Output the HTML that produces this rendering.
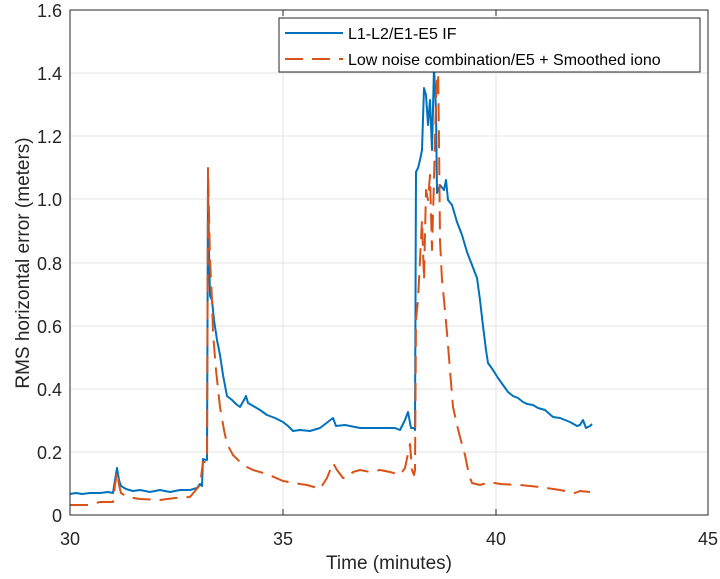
<!DOCTYPE html>
<html><head><style>body{margin:0;background:#fff}svg{display:block;font-family:"Liberation Sans",sans-serif}</style></head>
<body>
<svg width="720" height="579" viewBox="0 0 720 579">
<rect width="720" height="579" fill="#fff"/>
<g stroke="#e3e3e3" stroke-width="1">
<line x1="283" y1="10" x2="283" y2="515"/><line x1="496" y1="10" x2="496" y2="515"/>
<line x1="70" y1="452" x2="708" y2="452"/><line x1="70" y1="389" x2="708" y2="389"/>
<line x1="70" y1="326" x2="708" y2="326"/><line x1="70" y1="263" x2="708" y2="263"/>
<line x1="70" y1="199" x2="708" y2="199"/><line x1="70" y1="136" x2="708" y2="136"/>
<line x1="70" y1="73" x2="708" y2="73"/>
</g>
<polyline fill="none" stroke="#0072bd" stroke-width="2" stroke-linejoin="round" points="70,494 76,493 82,494 90,493 100,493 108,492 113,493 115,480 117,468 119,480 121,486 126,489 133,491 140,490 150,492 160,490 170,492 180,490 190,490 197,488 200,484 202,486 203,459 206,460 207,460 208,184 209,250 210,296 212,300 214,320 217,340 220,355 223,375 227,396 232,400 236,404 240,407 244,400 246,396 248,403 255,407 260,410 267,415 275,418 283,422 288,426 293,431 300,430 310,431 320,428 333,418 336,426 345,425 360,428 375,428 385,428 395,428 400,430 405,420 408,412 411,428 414,428 415,430 416,172 418,168 420,160 422,150 424,88 426,95 428,125 430,100 432,150 434,67 436,110 437,193 440,185 444,190 446,180 448,200 452,205 457,222 462,235 467,252 472,265 477,278 480,300 483,326 486,350 488,363 493,370 498,378 503,385 508,392 513,396 518,398 523,402 527,404 533,405 538,408 545,410 553,417 560,418 565,420 570,422 577,426 580,425 583,420 586,428 590,426 592,424"/>
<polyline fill="none" stroke="#d95319" stroke-width="2" stroke-dasharray="18,9" stroke-linejoin="round" points="70,505 88,505 100,502 113,502 115,485 117,472 119,485 121,493 127,497 140,499 160,500 175,498 190,497 200,485 203,462 206,462 207,462 208,168 210,259 212,300 213,333 216,370 220,407 224,430 227,444 233,455 243,465 253,470 267,474 283,481 300,484 307,485 314,487 320,489 327,478 333,463 337,470 343,478 347,478 353,472 360,470 370,472 380,470 390,472 400,475 405,468 410,444 412,470 414,475 415,470 416,320 418,300 420,260 422,220 424,280 426,190 428,200 430,175 432,250 434,180 436,100 438,60 439,140 440,240 442,280 444,300 447,333 450,370 453,407 457,425 460,437 465,455 469,475 472,483 480,485 490,482 500,484 520,485 540,487 560,490 575,493 580,491 590,492"/>
<rect x="70" y="10" width="638" height="505" fill="none" stroke="#262626" stroke-width="1"/>
<g stroke="#262626"><line x1="283" y1="515" x2="283" y2="509"/><line x1="496" y1="515" x2="496" y2="509"/><line x1="283" y1="10" x2="283" y2="16"/><line x1="496" y1="10" x2="496" y2="16"/></g>
<g font-size="18" fill="#262626" text-anchor="end">
<text x="62" y="522">0</text><text x="62" y="459">0.2</text><text x="62" y="396">0.4</text><text x="62" y="333">0.6</text><text x="62" y="270">0.8</text><text x="62" y="206">1.0</text><text x="62" y="143">1.2</text><text x="62" y="80">1.4</text><text x="62" y="17">1.6</text>
</g>
<g font-size="18" fill="#262626" text-anchor="middle">
<text x="70" y="545">30</text><text x="283" y="545">35</text><text x="496" y="545">40</text><text x="708" y="545">45</text>
<text x="389" y="569" font-size="19">Time (minutes)</text>
<text transform="translate(29,263) rotate(-90)" font-size="19">RMS horizontal error (meters)</text>
</g>
<rect x="279" y="18" width="421" height="54" fill="#fff" stroke="#262626"/>
<line x1="285" y1="33" x2="343" y2="33" stroke="#0072bd" stroke-width="2"/>
<line x1="285" y1="59" x2="343" y2="59" stroke="#d95319" stroke-width="2" stroke-dasharray="18,9"/>
<g font-size="16" fill="#000"><text x="348" y="39">L1-L2/E1-E5 IF</text><text x="348" y="65">Low noise combination/E5 + Smoothed iono</text></g>
</svg>
</body></html>
